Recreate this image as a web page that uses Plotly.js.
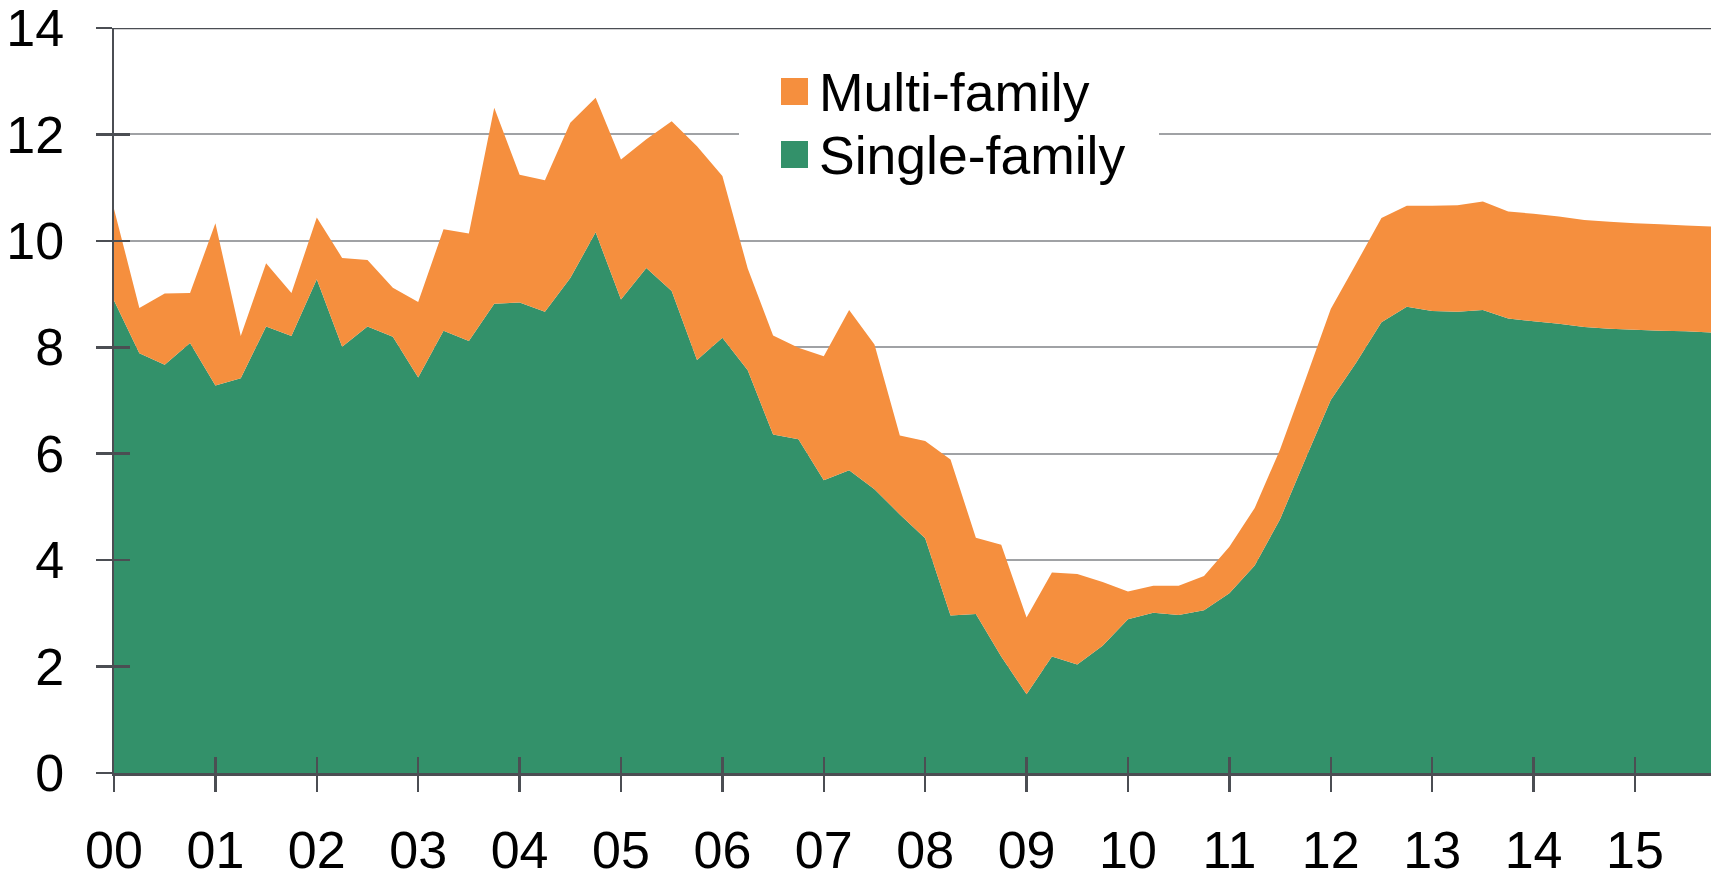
<!DOCTYPE html>
<html>
<head>
<meta charset="utf-8">
<script src="https://cdn.plot.ly/plotly-3.0.1.min.js"></script>
<style>
  html, body { margin: 0; padding: 0; background: #ffffff; }
  #chart { width: 1711px; height: 877px; }
</style>
</head>
<body>
<div id="chart"></div>
<script>
// Quarterly categories 2000Q1 .. 2015Q4
const quarters = [
  "00Q1","00Q2","00Q3","00Q4","01Q1","01Q2","01Q3","01Q4",
  "02Q1","02Q2","02Q3","02Q4","03Q1","03Q2","03Q3","03Q4",
  "04Q1","04Q2","04Q3","04Q4","05Q1","05Q2","05Q3","05Q4",
  "06Q1","06Q2","06Q3","06Q4","07Q1","07Q2","07Q3","07Q4",
  "08Q1","08Q2","08Q3","08Q4","09Q1","09Q2","09Q3","09Q4",
  "10Q1","10Q2","10Q3","10Q4","11Q1","11Q2","11Q3","11Q4",
  "12Q1","12Q2","12Q3","12Q4","13Q1","13Q2","13Q3","13Q4",
  "14Q1","14Q2","14Q3","14Q4","15Q1","15Q2","15Q3","15Q4"
];

// Single-family (bottom layer)
const singleFamily = [
  8.88, 7.89, 7.67, 8.08, 7.28, 7.42, 8.39, 8.21,
  9.28, 8.01, 8.39, 8.20, 7.43, 8.31, 8.12, 8.82,
  8.84, 8.67, 9.30, 10.16, 8.90, 9.49, 9.06, 7.76,
  8.18, 7.57, 6.36, 6.27, 5.50, 5.69, 5.33, 4.86,
  4.41, 2.96, 2.99, 2.19, 1.48, 2.19, 2.04, 2.39,
  2.89, 3.01, 2.97, 3.06, 3.38, 3.90, 4.77, 5.90,
  7.01, 7.71, 8.47, 8.76, 8.68, 8.67, 8.70, 8.54,
  8.49, 8.44, 8.38, 8.35, 8.33, 8.31, 8.30, 8.28
];

// Multi-family (stacked on top)
const multiFamily = [
  1.72, 0.85, 1.34, 0.94, 3.05, 0.79, 1.19, 0.81,
  1.16, 1.67, 1.25, 0.92, 1.42, 1.91, 2.02, 3.68,
  2.40, 2.47, 2.92, 2.53, 2.63, 2.42, 3.19, 4.02,
  3.04, 1.91, 1.86, 1.72, 2.33, 3.01, 2.72, 1.48,
  1.83, 2.93, 1.43, 2.10, 1.44, 1.58, 1.70, 1.20,
  0.52, 0.51, 0.55, 0.64, 0.87, 1.08, 1.31, 1.49,
  1.71, 1.86, 1.96, 1.90, 1.98, 2.00, 2.04, 2.01,
  2.02, 2.02, 2.01, 2.01, 2.00, 2.00, 1.99, 1.99
];

const yearLabels = ["00","01","02","03","04","05","06","07","08","09","10","11","12","13","14","15"];
const yTicks = [0, 2, 4, 6, 8, 10, 12, 14];
const seriesNames = ["Single-family", "Multi-family"];

const GREEN = "#33916a";
const ORANGE = "#f58f3e";
const AXIS = "#4b4e53";
const GRID = "#a0a2a5";
const FONT = "Liberation Sans, Arial, Helvetica, sans-serif";

// ticks at the first quarter of each year
const yearTickVals = quarters.filter(q => q.endsWith("Q1"));
const yearTickIdx = quarters.map((q, i) => q.endsWith("Q1") ? i : -1).filter(i => i >= 0);

const traces = [
  {
    type: "scatter", x: quarters, y: singleFamily, name: seriesNames[0],
    stackgroup: "one", mode: "none", fillcolor: GREEN, showlegend: false,
    hoverinfo: "x+y+name"
  },
  {
    type: "scatter", x: quarters, y: multiFamily, name: seriesNames[1],
    stackgroup: "one", mode: "none", fillcolor: ORANGE, showlegend: false,
    hoverinfo: "x+y+name"
  },
  // empty helper traces so the overlay axes (inner half of the crossing ticks) are drawn
  { type: "scatter", x: [], y: [], xaxis: "x2", yaxis: "y", mode: "none", showlegend: false, hoverinfo: "skip" },
  { type: "scatter", x: [], y: [], xaxis: "x", yaxis: "y2", mode: "none", showlegend: false, hoverinfo: "skip" }
];

// plot-area pixel geometry for legend placement
const L = 114, T = 28, BOT = 773;
const W = 1711 - L, H = BOT - T;
const px = v => (v - L) / W;
const py = v => (BOT - v) / H;

const layout = {
  width: 1711, height: 877,
  margin: { l: L, r: 0, t: T, b: 877 - BOT, pad: 0 },
  paper_bgcolor: "#ffffff", plot_bgcolor: "#ffffff",
  font: { family: FONT, color: "#000000", size: 52 },
  showlegend: false,
  xaxis: {
    type: "category", range: [0, quarters.length - 1],
    tickmode: "array", tickvals: yearTickVals, ticktext: yearLabels,
    ticks: "outside", ticklen: 16, tickwidth: 2.5, tickcolor: AXIS,
    showline: true, linecolor: AXIS, linewidth: 2.5,
    showgrid: false, zeroline: false,
    tickfont: { family: FONT, size: 52, color: "#000000" },
    ticklabelstandoff: 14, ticklabeloverflow: "allow", fixedrange: true
  },
  xaxis2: {
    visible: true, overlaying: "x", anchor: "y", side: "bottom",
    type: "linear", range: [0, quarters.length - 1],
    tickmode: "array", tickvals: yearTickIdx,
    ticks: "inside", ticklen: 16, tickwidth: 2.5, tickcolor: AXIS,
    showticklabels: false, showline: false, showgrid: false, zeroline: false, fixedrange: true
  },
  yaxis: {
    range: [0, 14], tickmode: "array", tickvals: yTicks,
    ticks: "outside", ticklen: 16, tickwidth: 2.5, tickcolor: AXIS,
    showline: true, linecolor: AXIS, linewidth: 2.5,
    showgrid: true, gridcolor: GRID, gridwidth: 2, zeroline: false,
    tickfont: { family: FONT, size: 52, color: "#000000" },
    ticklabelstandoff: 21, ticklabeloverflow: "allow", fixedrange: true
  },
  yaxis2: {
    visible: true, overlaying: "y", anchor: "x", side: "left",
    range: [0, 14], tickmode: "array", tickvals: yTicks,
    ticks: "inside", ticklen: 16, tickwidth: 2.5, tickcolor: AXIS,
    showticklabels: false, showline: false, showgrid: false, zeroline: false, fixedrange: true
  },
  shapes: [
    // top frame line at the 14 level
    { type: "line", xref: "paper", yref: "y", layer: "above",
      x0: 0, x1: 1, y0: 14, y1: 14, line: { color: AXIS, width: 2.5 } },
    // legend background (interrupts the gridline behind it)
    { type: "rect", xref: "paper", yref: "paper", layer: "above",
      x0: px(739), x1: px(1159), y0: py(190), y1: py(45),
      fillcolor: "#ffffff", line: { width: 0 } },
    { type: "rect", xref: "paper", yref: "paper", layer: "above",
      x0: px(781), x1: px(808), y0: py(105), y1: py(78),
      fillcolor: ORANGE, line: { width: 0 } },
    { type: "rect", xref: "paper", yref: "paper", layer: "above",
      x0: px(781), x1: px(808), y0: py(168), y1: py(141),
      fillcolor: GREEN, line: { width: 0 } }
  ],
  annotations: [
    { xref: "paper", yref: "paper", x: px(817), y: py(92), xanchor: "left", yanchor: "middle",
      text: seriesNames[1], showarrow: false, font: { family: FONT, size: 53.5, color: "#000000" } },
    { xref: "paper", yref: "paper", x: px(817), y: py(155), xanchor: "left", yanchor: "middle",
      text: seriesNames[0], showarrow: false, font: { family: FONT, size: 53.5, color: "#000000" } }
  ]
};

Plotly.newPlot("chart", traces, layout, { displayModeBar: false, staticPlot: true });
</script>
</body>
</html>
